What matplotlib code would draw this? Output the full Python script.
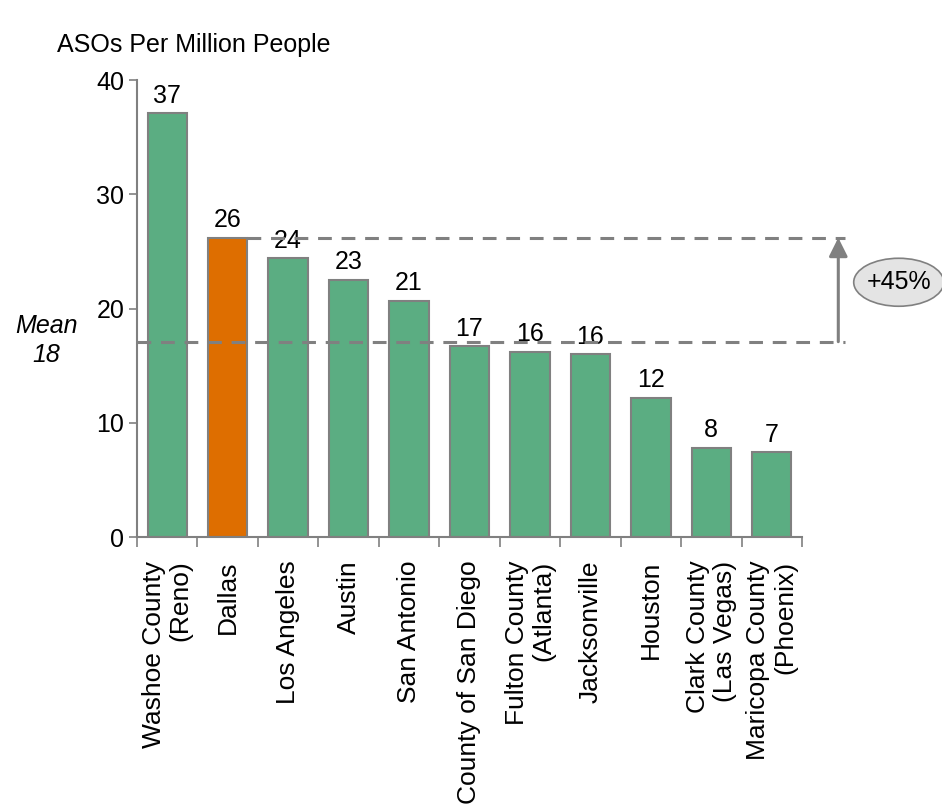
import matplotlib.pyplot as plt
from matplotlib.patches import Ellipse
import numpy as np

plt.rcParams['font.family'] = ['Liberation Sans', 'DejaVu Sans']

# data
cities = ['Washoe County\n(Reno)', 'Dallas', 'Los Angeles', 'Austin', 'San Antonio',
          'County of San Diego', 'Fulton County\n(Atlanta)', 'Jacksonville', 'Houston',
          'Clark County\n(Las Vegas)', 'Maricopa County\n(Phoenix)']
values = [37.1, 26.2, 24.4, 22.5, 20.7, 16.7, 16.2, 16.0, 12.2, 7.8, 7.4]
value_labels = ['37', '26', '24', '23', '21', '17', '16', '16', '12', '8', '7']
mean_line = 17.1
dallas_value = 26.2

green = '#5BAD82'
orange = '#DE6E00'
grey = '#808080'
fs = 18

fig = plt.figure(figsize=(9.42, 8.06), dpi=100)
ax = fig.add_axes([0.1454, 0.3337, 0.8514 - 0.1454, 0.9007 - 0.3337])

x = np.arange(len(cities))
colors = [orange if c == 'Dallas' else green for c in cities]
ax.bar(x, values, width=0.65, color=colors, edgecolor=grey, linewidth=1.5, zorder=2)

for xi, v, lab in zip(x, values, value_labels):
    ax.annotate(lab, (xi, v), xytext=(0, 4), textcoords='offset points',
                ha='center', va='bottom', fontsize=fs)

ax.set_xlim(-0.5, 10.5)
ax.set_ylim(0, 40)
ax.set_yticks([0, 10, 20, 30, 40])
ax.tick_params(axis='y', labelsize=fs, length=6, width=1.2, color=grey, pad=3)

# ticks between categories, labels at centers
ax.set_xticks(np.arange(-0.5, 11, 1))
ax.set_xticklabels([])
ax.set_xticks(x, minor=True)
ax.set_xticklabels(cities, minor=True, rotation=90, fontsize=19, ha='center', va='top',
                   multialignment='right', linespacing=1.15)
ax.tick_params(axis='x', which='major', length=7, width=1.2, color=grey)
ax.tick_params(axis='x', which='minor', length=0, pad=17)

for s in ['top', 'right']:
    ax.spines[s].set_visible(False)
for s in ['left', 'bottom']:
    ax.spines[s].set_color(grey)
    ax.spines[s].set_linewidth(1.5)

# mean and Dallas reference lines
ax.plot([-0.5, 11.21], [mean_line, mean_line], ls=(0, (4.5, 3.2)), color=grey, lw=2.2,
        clip_on=False, zorder=3)
ax.plot([1.325, 11.21], [dallas_value, dallas_value], ls=(0, (4.5, 3.2)), color=grey, lw=2.2,
        clip_on=False, zorder=3)
ax.annotate('', xy=(11.1, dallas_value), xytext=(11.1, mean_line),
            arrowprops=dict(arrowstyle='-|>', color=grey, lw=2.2, mutation_scale=28,
                            shrinkA=0, shrinkB=0), annotation_clip=False)

ell = Ellipse((12.1, 22.3), width=1.49, height=4.2, facecolor='#E4E4E4', edgecolor=grey,
              lw=1.2, clip_on=False, zorder=3)
ax.add_patch(ell)
ax.text(12.1, 22.3, '+45%', ha='center', va='center', fontsize=fs, zorder=4)

ax.text(-2.0, 17.2, 'Mean\n18', ha='center', va='center', fontsize=fs, style='italic',
        linespacing=1.3)

fig.text(57 / 942, 1 - 45 / 806, 'ASOs Per Million People', fontsize=fs, ha='left', va='center')

fig.savefig('out.png', dpi=100)
